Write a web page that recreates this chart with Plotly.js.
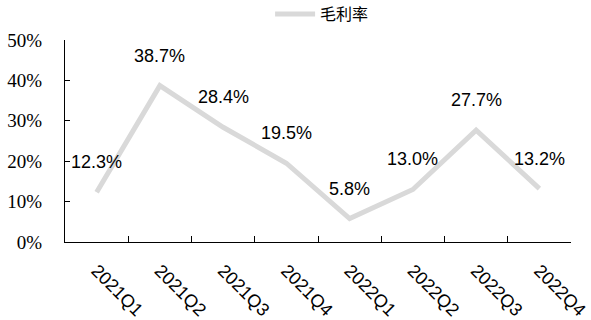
<!DOCTYPE html>
<html>
<head>
<meta charset="utf-8">
<script src="https://cdn.plot.ly/plotly-3.0.1.min.js"></script>
<style>html,body{margin:0;padding:0;background:#fff;}#chart{width:591px;height:320px;}</style>
</head>
<body>
<div id="chart"></div>
<script>
const categories = ["2021Q1","2021Q2","2021Q3","2021Q4","2022Q1","2022Q2","2022Q3","2022Q4"];
const grossMargin = [0.123, 0.387, 0.284, 0.195, 0.058, 0.130, 0.277, 0.132];
const seriesName = "毛利率";

const labelFont = {family: "Liberation Sans, Arial, sans-serif", size: 18, color: "#000"};

const annotations = categories.map((c, i) => ({
  x: c, y: grossMargin[i], xref: "x", yref: "y",
  text: (grossMargin[i] * 100).toFixed(1) + "%",
  showarrow: false, yshift: 30, font: labelFont
}));

const trace = {
  x: categories, y: grossMargin, name: seriesName,
  type: "scatter", mode: "lines",
  line: {color: "#d9d9d9", width: 5},
  hoverinfo: "skip"
};

const layout = {
  width: 591, height: 320,
  margin: {l: 65, r: 20, t: 40, b: 78},
  paper_bgcolor: "#fff", plot_bgcolor: "#fff",
  showlegend: true,
  legend: {
    orientation: "h", xref: "container", yref: "container",
    x: 0.545, xanchor: "center", y: 0.956, yanchor: "middle",
    font: {family: "Noto Sans CJK SC, sans-serif", size: 16, color: "#000"},
    itemwidth: 40
  },
  xaxis: {
    type: "category", range: [-0.5, 7.5], automargin: false,
    showline: true, linecolor: "#000", linewidth: 1,
    ticks: "inside", tickson: "boundaries", ticklen: 6, tickcolor: "#000",
    showgrid: false, zeroline: false,
    tickangle: 45, ticklabelstandoff: 10,
    tickfont: {family: "Liberation Sans, Arial, sans-serif", size: 18, color: "#000"}
  },
  yaxis: {
    range: [0, 0.5], dtick: 0.1, tick0: 0, tickformat: ".0%", automargin: false,
    showline: true, linecolor: "#000", linewidth: 1,
    ticks: "inside", ticklen: 5, tickcolor: "#000",
    showgrid: false, zeroline: false,
    ticklabelstandoff: 18,
    tickfont: {family: "Liberation Serif, Times New Roman, serif", size: 19, color: "#000"}
  },
  annotations: annotations
};

Plotly.newPlot("chart", [trace], layout, {displayModeBar: false, staticPlot: true});
</script>
</body>
</html>
